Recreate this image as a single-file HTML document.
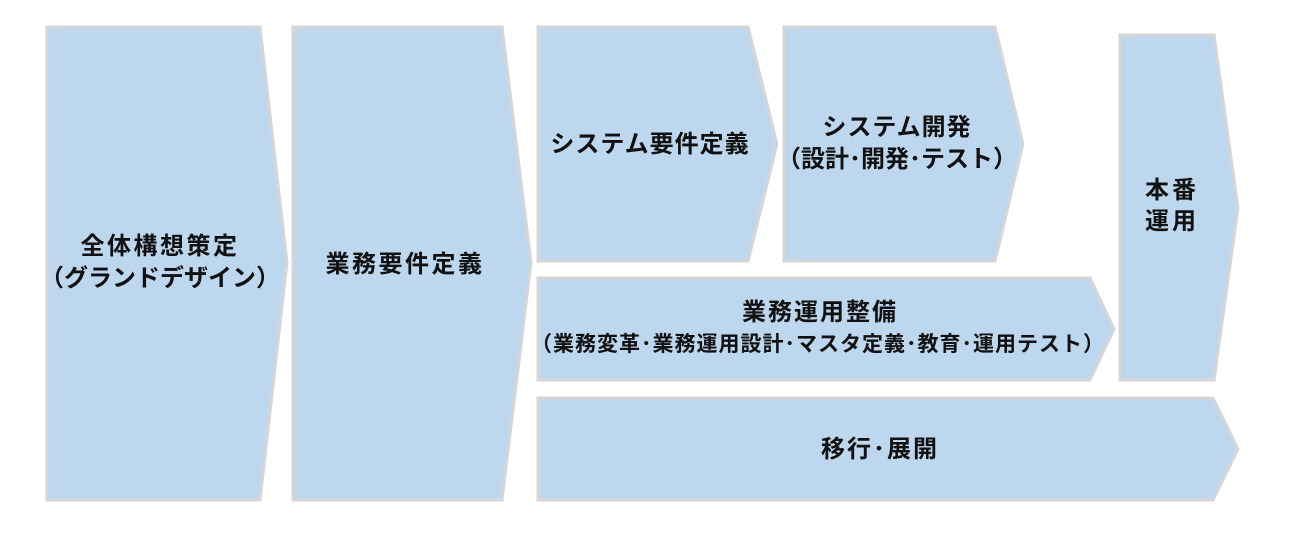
<!DOCTYPE html>
<html><head><meta charset="utf-8"><style>
html,body{margin:0;padding:0;background:#fff;}
svg text{font-family:"Liberation Sans","Noto Sans CJK JP",sans-serif;font-weight:bold;font-size:24px;fill:#111;text-anchor:middle;}
</style></head><body>
<svg width="1300" height="530" viewBox="0 0 1300 530" xmlns="http://www.w3.org/2000/svg">
<g fill="#BDD7EE" stroke="#D6D6D6" stroke-width="3" stroke-linejoin="miter">
<polygon points="47,27 260,27 287,263 260,500 47,500"/>
<polygon points="293,27 502,27 531,263 502,500 293,500"/>
<polygon points="538,27 748,27 777,144 748,261 538,261"/>
<polygon points="784,27 995,27 1023,144 995,261 784,261"/>
<polygon points="1120,35 1214,35 1238,208 1214,380 1120,380"/>
<polygon points="538,278 1090,278 1114,329 1090,380 538,380"/>
<polygon points="538,398 1213,398 1238,449 1213,500 538,500"/>
</g>
<text x="160" y="254" letter-spacing="2.5">全体構想策定</text>
<text x="160" y="286" letter-spacing="0">（グランドデザイン）</text>
<text x="405" y="272" letter-spacing="2.5">業務要件定義</text>
<text x="650" y="152" letter-spacing="1">システム要件定義</text>
<text x="897" y="135" letter-spacing="1">システム開発</text>
<text x="897" y="167" letter-spacing="0">（設計･開発･テスト）</text>
<text x="1172" y="198" letter-spacing="3">本番</text>
<text x="1172" y="229" letter-spacing="3">運用</text>
<text x="820" y="320" letter-spacing="2">業務運用整備</text>
<text x="818" y="351" letter-spacing="1" style="font-size:21px">（業務変革･業務運用設計･マスタ定義･教育･運用テスト）</text>
<text x="880" y="457" letter-spacing="2">移行･展開</text>
</svg>
</body></html>
